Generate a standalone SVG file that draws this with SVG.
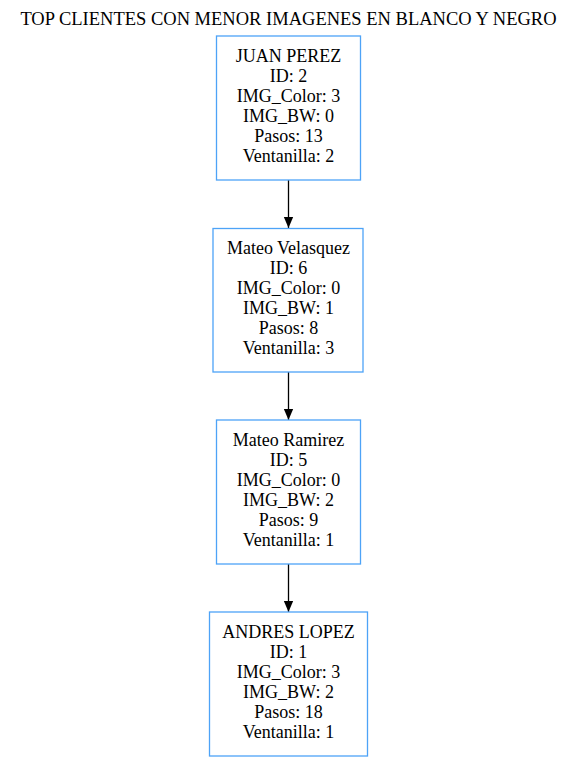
<svg xmlns="http://www.w3.org/2000/svg" width="577" height="761" viewBox="0 0 577 761">
<style>
  text { font-family: "Liberation Serif", "Times New Roman", serif; font-size: 18px; fill: #000; text-anchor: middle; }
  .title { font-size: 18.5px; }
  .box { fill: #fff; stroke: #4da3f7; stroke-width: 1.3; }
  .edge { stroke: #000; stroke-width: 1.3; fill: none; }
</style>
<defs>
  <marker id="arrow" markerWidth="11" markerHeight="13" refX="13" refY="5.5" viewBox="0 0 13 11" orient="auto" markerUnits="userSpaceOnUse">
    <path d="M0,0 L13,5.5 L0,11 Z" fill="#000"/>
  </marker>
</defs>
<rect width="577" height="761" fill="#fff"/>
<text class="title" x="288.5" y="25">TOP CLIENTES CON MENOR IMAGENES EN BLANCO Y NEGRO</text>
<g id="connectors">
  <path class="edge" d="M288.5,180 L288.5,228" marker-end="url(#arrow)"/>
  <path class="edge" d="M288.5,372 L288.5,420" marker-end="url(#arrow)"/>
  <path class="edge" d="M288.5,564 L288.5,612" marker-end="url(#arrow)"/>
</g>
<g id="node1">
  <rect class="box" x="216.5" y="36" width="144" height="144"/>
  <text x="288.5" y="62">JUAN PEREZ</text>
  <text x="288.5" y="82">ID: 2</text>
  <text x="288.5" y="102">IMG_Color: 3</text>
  <text x="288.5" y="122">IMG_BW: 0</text>
  <text x="288.5" y="142">Pasos: 13</text>
  <text x="288.5" y="162">Ventanilla: 2</text>
</g>
<g id="node2">
  <rect class="box" x="213" y="228.5" width="150" height="143.5"/>
  <text x="288.5" y="254">Mateo Velasquez</text>
  <text x="288.5" y="274">ID: 6</text>
  <text x="288.5" y="294">IMG_Color: 0</text>
  <text x="288.5" y="314">IMG_BW: 1</text>
  <text x="288.5" y="334">Pasos: 8</text>
  <text x="288.5" y="354">Ventanilla: 3</text>
</g>
<g id="node3">
  <rect class="box" x="216.5" y="420" width="144" height="144"/>
  <text x="288.5" y="446">Mateo Ramirez</text>
  <text x="288.5" y="466">ID: 5</text>
  <text x="288.5" y="486">IMG_Color: 0</text>
  <text x="288.5" y="506">IMG_BW: 2</text>
  <text x="288.5" y="526">Pasos: 9</text>
  <text x="288.5" y="546">Ventanilla: 1</text>
</g>
<g id="node4">
  <rect class="box" x="209.5" y="612" width="158" height="144"/>
  <text x="288.5" y="638">ANDRES LOPEZ</text>
  <text x="288.5" y="658">ID: 1</text>
  <text x="288.5" y="678">IMG_Color: 3</text>
  <text x="288.5" y="698">IMG_BW: 2</text>
  <text x="288.5" y="718">Pasos: 18</text>
  <text x="288.5" y="738">Ventanilla: 1</text>
</g>
</svg>
